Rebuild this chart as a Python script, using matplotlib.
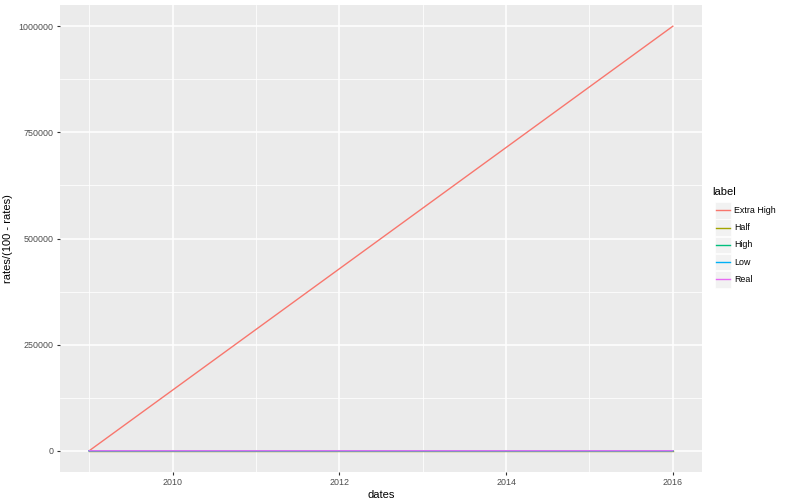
import matplotlib
matplotlib.use("Agg")
import matplotlib.pyplot as plt
import matplotlib.dates as mdates
from matplotlib.patches import Rectangle
from matplotlib.lines import Line2D
import datetime as dt

plt.rcParams['font.family'] = ['Liberation Sans', 'DejaVu Sans']

dates = [dt.date(2009, 1, 1), dt.date(2016, 1, 1)]
labels = ["Extra High", "Half", "High", "Low", "Real"]
extra_high = [0, 999999]
half = [1, 1]
high = [0, 19]
low = [0, 3]
real = [0, 2]
series = [extra_high, half, high, low, real]
colors = ["#F8766D", "#A3A500", "#00BF7D", "#00B0F6", "#E76BF3"]

W, H = 792, 504
fig = plt.figure(figsize=(W/100, H/100), dpi=100)
L, R, T, B = 60, 702, 5, 472
ax = fig.add_axes([L/W, (H-B)/H, (R-L)/W, (B-T)/H])
ax.set_facecolor("#EBEBEB")
for s in ax.spines.values():
    s.set_visible(False)

for lab, vals, c in zip(labels, series, colors):
    ax.plot(dates, vals, color=c, lw=1.0, label=lab)

xmin = mdates.date2num(dt.date(2009, 1, 1)); xmax = mdates.date2num(dt.date(2016, 1, 1))
pad = (xmax - xmin) * 0.05
ax.set_xlim(xmin - pad, xmax + pad)
ax.set_ylim(-50000, 1050000)

major_x = [mdates.date2num(dt.date(y, 1, 1)) for y in [2010, 2012, 2014, 2016]]
minor_x = [mdates.date2num(dt.date(y, 1, 1)) for y in [2009, 2011, 2013, 2015]]
ax.set_xticks(major_x)
ax.set_xticklabels(["2010", "2012", "2014", "2016"])
ax.set_xticks(minor_x, minor=True)
ax.set_yticks([0, 250000, 500000, 750000, 1000000])
ax.set_yticklabels(["0", "250000", "500000", "750000", "1000000"])
ax.set_yticks([125000, 375000, 625000, 875000], minor=True)
ax.grid(True, which="major", color="white", lw=1.1)
ax.grid(True, which="minor", color="white", lw=0.55)
ax.set_axisbelow(True)
ax.tick_params(which="major", length=2.5, width=0.8, color="#333333", labelsize=6.4, labelcolor="#4D4D4D", pad=2)
ax.tick_params(which="minor", length=0)
ax.set_xlabel("dates", fontsize=8, labelpad=2)
ax.set_ylabel("rates/(100 - rates)", fontsize=8, labelpad=4)

# legend (ggplot style)
def fx(px): return px / W
def fy(py): return 1 - py / H
fig.text(fx(712), fy(192), "label", fontsize=8, ha="left", va="center")
box_top = 202
step = 17.3
for i, (lab, c) in enumerate(zip(labels, colors)):
    y0 = box_top + i * step
    fig.patches.append(Rectangle((fx(714.5), fy(y0 + 16.5)), 16.5 / W, 16.5 / H,
                                 transform=fig.transFigure, facecolor="#F2F2F2",
                                 edgecolor="white", lw=0.5, figure=fig))
    yc = y0 + 8.25
    fig.lines.append(Line2D([fx(716), fx(730)], [fy(yc), fy(yc)], color=c, lw=1.0,
                            transform=fig.transFigure, figure=fig))
    fig.text(fx(734), fy(yc), lab, fontsize=6.4, ha="left", va="center")

fig.savefig("out.png", dpi=100)
